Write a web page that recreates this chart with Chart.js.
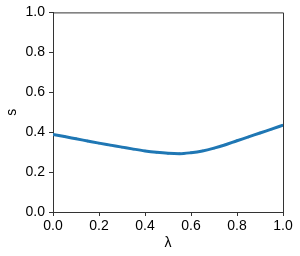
<!DOCTYPE html>
<html>
<head>
<meta charset="utf-8">
<script src="https://cdn.jsdelivr.net/npm/chart.js@4"></script>
<style>
  html, body { margin: 0; padding: 0; background: #fff; }
  canvas { display: block; }
</style>
</head>
<body>
<canvas id="chart" width="300" height="256"></canvas>
<script>
// valori
const lambdaVals = [0.00, 0.05, 0.10, 0.15, 0.20, 0.25, 0.30, 0.35, 0.40, 0.45, 0.50,
                    0.55, 0.60, 0.65, 0.70, 0.75, 0.80, 0.85, 0.90, 0.95, 1.00]
const sVals      = [0.389, 0.378, 0.367, 0.356, 0.345, 0.335, 0.325, 0.315, 0.306, 0.299, 0.294,
                    0.292, 0.297, 0.306, 0.320, 0.337, 0.357, 0.376, 0.396, 0.415, 0.435]
const tickVals   = [0.0, 0.2, 0.4, 0.6, 0.8, 1.0]

const FONT = { family: 'Liberation Sans', size: 14 }
const AXIS = '#333'

// bordo sopra e a destra (come matplotlib)
const frame = {
  id: 'frame',
  afterDraw(chart) {
    const { ctx, chartArea: a } = chart
    ctx.save()
    ctx.strokeStyle = AXIS
    ctx.lineWidth = 1
    ctx.beginPath()
    ctx.moveTo(a.left, a.top + 0.5)
    ctx.lineTo(a.right + 0.5, a.top + 0.5)
    ctx.lineTo(a.right + 0.5, a.bottom)
    ctx.stroke()
    ctx.restore()
  }
}

const axisOpts = (title, isX) => ({
  type: 'linear',
  min: 0, max: 1,
  afterBuildTicks: s => { s.ticks = tickVals.map(v => ({ value: v })) },
  afterFit: s => { if (isX) s.height = 44; else s.width = 53 },
  ticks: { font: FONT, color: '#000', padding: isX ? 2 : 4, maxRotation: 0,
           callback: v => v.toFixed(1) },
  grid: { display: true, drawOnChartArea: false, drawTicks: true, tickLength: 4, color: AXIS },
  border: { display: true, color: AXIS, width: 1 },
  title: { display: true, text: title, font: FONT, color: '#000', padding: isX ? { top: 0 } : { bottom: 8 } }
})

new Chart(document.getElementById('chart'), {
  type: 'line',
  data: {
    datasets: [{
      data: lambdaVals.map((x, i) => ({ x, y: sVals[i] })),
      borderColor: '#1f77b4',
      backgroundColor: '#1f77b4',
      borderWidth: 3,
      pointRadius: 1.2,
      pointBorderWidth: 0,
      tension: 0.4,
      cubicInterpolationMode: 'monotone'
    }]
  },
  options: {
    responsive: false,
    animation: false,
    layout: { padding: { left: 0, right: 17, top: 11, bottom: 0 } },
    plugins: { legend: { display: false }, tooltip: { enabled: false } },
    scales: {
      x: axisOpts('λ', true),
      y: axisOpts('s', false)
    }
  },
  plugins: [frame]
})
</script>
</body>
</html>
